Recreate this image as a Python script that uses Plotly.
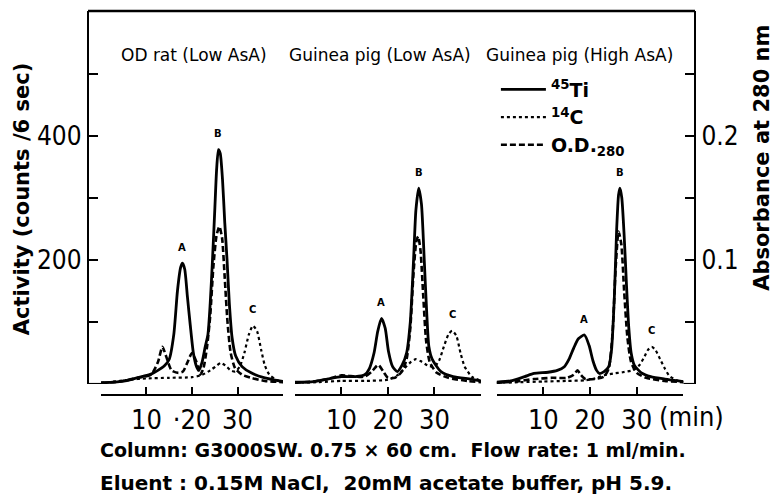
import plotly.graph_objects as go

# ---- elution profiles on a G3000SW column (time in min) ----
# counts/6 sec for 45Ti and 14C, absorbance at 280 nm for O.D.

# OD rat (Low AsA)
rat_ti_t = [0, 3, 6, 9, 11, 12.5, 14, 15, 16, 16.8, 17.5, 17.9, 18.4, 19, 19.6, 20.3, 21, 21.5,
            22.2, 22.9, 23.5, 24, 24.5, 25, 25.4, 25.8, 26.2, 26.7, 27.2, 27.7, 28.2, 28.8, 29.6,
            31, 33, 36, 40]
rat_ti = [2, 3, 6, 12, 16, 22, 30, 40, 80, 150, 188, 195, 185, 140, 96, 50, 28, 22,
          35, 60, 80, 130, 200, 280, 345, 378, 372, 330, 260, 200, 130, 75, 45,
          28, 18, 10, 4]
rat_c_t = [0, 3, 6, 10, 15, 20, 22, 24, 25.5, 26.3, 27.3, 28.5, 29.5, 30.5, 31.5, 32.5,
           33.4, 34.3, 35.2, 36, 37, 38.5, 40]
rat_c = [2, 4, 7, 9, 10, 11, 14, 22, 30, 34, 30, 22, 20, 28, 50, 80,
         94, 85, 55, 30, 15, 7, 3]
rat_od_t = [0, 4, 8, 11, 12.5, 13.5, 14.3, 15.5, 17, 18, 19, 20, 21, 21.8, 22.5, 23.3, 24,
            24.7, 25.4, 26.0, 26.6, 27.2, 27.8, 28.5, 29.5, 31, 33, 36, 40]
rat_od = [0.001, 0.002, 0.005, 0.0075, 0.0175, 0.03, 0.0225, 0.011, 0.009, 0.01, 0.0175,
          0.025, 0.0175, 0.0075, 0.0125, 0.03, 0.055, 0.095, 0.12, 0.127, 0.118, 0.085,
          0.05, 0.025, 0.0125, 0.0075, 0.005, 0.0025, 0.0015]

# Guinea pig (Low AsA)
gpl_ti_t = [0, 4, 7, 10, 13, 15, 16, 17, 17.8, 18.6, 19.4, 20.1, 21, 22, 23, 24, 24.8, 25.5,
            26, 26.6, 27.2, 27.8, 28.3, 28.8, 29.5, 31.4, 34, 37.9, 40]
gpl_ti = [3, 4, 8, 12, 12, 15, 25, 50, 85, 106, 90, 53, 28, 20, 30, 50, 100, 200,
          280, 316, 290, 200, 120, 60, 40, 20, 12, 8, 5]
gpl_c_t = [0, 5, 10, 15, 20, 22, 23.5, 25, 26, 27, 28.5, 30, 31, 32, 33, 33.8, 34.7, 35.6,
           36.5, 38, 40]
gpl_c = [2, 3, 5, 5, 7, 14, 25, 36, 40, 37, 30, 28, 38, 60, 80, 86, 78, 50,
         28, 12, 5]
gpl_od_t = [0, 4, 7, 10, 13, 15, 16.5, 17.9, 19, 20, 21.5, 23, 24, 24.8, 25.5, 26.1, 26.5,
            27, 27.6, 28.2, 29, 30.5, 33, 37, 40]
gpl_od = [0.001, 0.002, 0.004, 0.007, 0.006, 0.006, 0.01, 0.0155, 0.01, 0.005, 0.005, 0.01,
          0.02, 0.045, 0.09, 0.115, 0.119, 0.1075, 0.07, 0.035, 0.0175, 0.009, 0.005,
          0.0025, 0.0015]

# Guinea pig (High AsA)
gph_ti_t = [0, 3, 6, 8, 11, 13, 14.5, 15.5, 16.5, 17.5, 18.8, 19.8, 20.6, 21.4, 22, 23, 24,
            24.6, 25.2, 25.7, 26.1, 26.4, 26.8, 27.3, 27.8, 28.3, 28.8, 29.5, 31, 33, 36, 40]
gph_ti = [3, 5, 12, 17, 19, 22, 28, 40, 58, 73, 79, 62, 38, 22, 17, 20, 28,
          55, 140, 250, 305, 316, 300, 240, 160, 90, 50, 30, 18, 12, 8, 4]
gph_c_t = [0, 5, 10, 15, 19, 21, 23, 25, 27, 29, 30.5, 31.5, 32.4, 33.2, 34, 35, 36, 37,
           38.5, 40]
gph_c = [2, 3, 4, 5, 6, 9, 14, 17, 19, 22, 30, 42, 55, 60, 55, 40, 25, 13, 6, 3]
gph_od_t = [0, 4, 8, 12, 15, 16.5, 17.3, 18, 19, 21, 23, 24, 24.8, 25.5, 26.1, 26.7, 27.3,
            28, 28.8, 30, 32, 36, 40]
gph_od = [0.001, 0.002, 0.004, 0.005, 0.005, 0.0075, 0.011, 0.0075, 0.004, 0.004, 0.006,
          0.0125, 0.04, 0.095, 0.123, 0.1125, 0.075, 0.0375, 0.0175, 0.009, 0.005, 0.0025,
          0.0015]

panel_titles = ["OD rat (Low AsA)", "Guinea pig (Low AsA)", "Guinea pig (High AsA)"]
x_ticks = [10, 20, 30]
x_end_ticks = [0, 40]
x_ticktext = [["10", "·20", "30"], ["10", "20", "30"], ["10", "20", "30"]]
count_ticks = [200, 400]
count_minor = [100, 300, 500]
od_ticks = [0.1, 0.2]
od_minor = [0.05, 0.15, 0.25]
series_names = ["<sup>45</sup>Ti", "<sup>14</sup>C", "O.D.<sub>280</sub>"]
caption_lines = ["Column: G3000SW. 0.75 × 60 cm.  Flow rate: 1 ml/min.",
                 "Eluent : 0.15M NaCl,  20mM acetate buffer, pH 5.9."]

runs = [
    (rat_ti_t, rat_ti, rat_c_t, rat_c, rat_od_t, rat_od),
    (gpl_ti_t, gpl_ti, gpl_c_t, gpl_c, gpl_od_t, gpl_od),
    (gph_ti_t, gph_ti, gph_c_t, gph_c, gph_od_t, gph_od),
]

FONT = "DejaVu Sans"
NUMFONT = "Liberation Sans Narrow, DejaVu Sans Condensed, DejaVu Sans"
INK = "black"
COUNT_TOP = 601.6
OD_PER_COUNT = 0.1 / 200

x_domains = [[0.0214, 0.3213], [0.3410, 0.6474], [0.6732, 0.9810]]
title_x = [0.175, 0.481, 0.810]
y_domain = [0.0286, 1.0]


def txt(size, family=FONT, bold=True):
    return dict(family=family, size=size, color=INK, weight="bold" if bold else "normal")


def peak(ts, vs, lo, hi):
    pts = [(v, t) for t, v in zip(ts, vs) if lo <= t <= hi]
    v, t = max(pts)
    return t, v


fig = go.Figure()
annotations = []

for i, (ti_t, ti, c_t, c, od_t, od) in enumerate(runs):
    xa = "x" if i == 0 else f"x{i + 1}"
    show = i == 0
    fig.add_trace(go.Scatter(x=ti_t, y=ti, xaxis=xa, yaxis="y", mode="lines",
                             name=series_names[0], legendgroup="ti", showlegend=show,
                             line=dict(color=INK, width=2.8, shape="spline", smoothing=0.6)))
    fig.add_trace(go.Scatter(x=c_t, y=c, xaxis=xa, yaxis="y", mode="lines",
                             name=series_names[1], legendgroup="c", showlegend=show,
                             line=dict(color=INK, width=2.2, dash="dot", shape="spline",
                                       smoothing=0.6)))
    fig.add_trace(go.Scatter(x=od_t, y=od, xaxis=xa, yaxis="y2", mode="lines",
                             name=series_names[2], legendgroup="od", showlegend=show,
                             line=dict(color=INK, width=2.6, dash="6px,3px", shape="spline",
                                       smoothing=0.6)))

    # peak markers: A and B on the 45Ti trace, C on the 14C trace
    for letter, (ts, vs, lo, hi) in {
        "A": (ti_t, ti, 15, 21),
        "B": (ti_t, ti, 23, 29),
        "C": (c_t, c, 30, 37),
    }.items():
        pt, pv = peak(ts, vs, lo, hi)
        annotations.append(dict(x=pt, y=pv, xref=xa, yref="y", text=letter, showarrow=False,
                                yshift=16, font=txt(10)))

    # panel heading
    annotations.append(dict(x=title_x[i], y=0.885, xref="paper", yref="paper",
                            text=panel_titles[i], showarrow=False, xanchor="center",
                            yanchor="middle", font=txt(17, bold=False)))

axis_x = dict(range=[0, 40], showline=True, linecolor=INK, linewidth=2.2, ticks="inside",
              ticklen=7, tickwidth=2, tickcolor=INK, tickvals=x_ticks, showgrid=False,
              zeroline=False, anchor="free", position=0,
              minor=dict(tickvals=x_end_ticks, ticks="inside", ticklen=11, tickwidth=2.2,
                         tickcolor=INK),
              tickfont=txt(27, NUMFONT, bold=False))

layout_axes = {}
for i in range(3):
    key = "xaxis" if i == 0 else f"xaxis{i + 1}"
    layout_axes[key] = dict(axis_x, domain=x_domains[i], ticktext=x_ticktext[i])

fig.update_layout(
    width=778, height=502,
    margin=dict(l=88, r=83, t=11, b=107),
    paper_bgcolor="white", plot_bgcolor="white",
    showlegend=True,
    legend=dict(x=0.672, y=0.845, xanchor="left", yanchor="top", bgcolor="rgba(0,0,0,0)",
                font=txt(19), tracegroupgap=0, itemwidth=45),
    yaxis=dict(range=[0, COUNT_TOP], domain=y_domain, showline=True, linecolor=INK,
               linewidth=2.4, ticks="inside", ticklen=9, tickwidth=2, tickcolor=INK,
               tickvals=count_ticks, showgrid=False, zeroline=False, anchor="free",
               position=0, tickfont=txt(26, NUMFONT, bold=False),
               minor=dict(tickvals=count_minor, ticks="inside", ticklen=9, tickwidth=2,
                          tickcolor=INK)),
    yaxis2=dict(range=[0, COUNT_TOP * OD_PER_COUNT], overlaying="y", side="right",
                showline=True, linecolor=INK, linewidth=2.4, ticks="inside", ticklen=9,
                tickwidth=2, tickcolor=INK, tickvals=od_ticks, showgrid=False,
                zeroline=False, anchor="free", position=1,
                tickfont=txt(26, NUMFONT, bold=False),
                minor=dict(tickvals=od_minor, ticks="inside", ticklen=9, tickwidth=2,
                           tickcolor=INK)),
    **layout_axes,
)

# top edge of the frame and the short feet at the baseline corners
fig.add_shape(type="line", xref="paper", yref="paper", x0=0, x1=1, y0=1, y1=1,
              line=dict(color=INK, width=2.4))
fig.add_shape(type="line", xref="paper", yref="y", x0=0, x1=x_domains[0][0], y0=0, y1=0,
              line=dict(color=INK, width=2.2))
fig.add_shape(type="line", xref="paper", yref="y", x0=x_domains[2][1], x1=1, y0=0, y1=0,
              line=dict(color=INK, width=2.2))

annotations += [
    dict(x=-0.1087, y=0.51, xref="paper", yref="paper", text="Activity (counts /6 sec)",
         textangle=-90, showarrow=False, xanchor="center", yanchor="middle", font=txt(21)),
    dict(x=1.110, y=0.617, xref="paper", yref="paper", text="Absorbance at 280 nm",
         textangle=-90, showarrow=False, xanchor="center", yanchor="middle", font=txt(21)),
    dict(x=0.995, y=-0.0547, xref="paper", yref="paper", text="(min)", showarrow=False,
         xanchor="center", yanchor="middle", font=txt(27, NUMFONT, bold=False)),
    dict(x=0.0165, y=-0.1432, xref="paper", yref="paper", text=caption_lines[0],
         showarrow=False, xanchor="left", yanchor="middle", font=txt(19)),
    dict(x=0.0165, y=-0.229, xref="paper", yref="paper", text=caption_lines[1],
         showarrow=False, xanchor="left", yanchor="middle", font=txt(20)),
]
fig.update_layout(annotations=annotations)

fig.write_html("out.html")
